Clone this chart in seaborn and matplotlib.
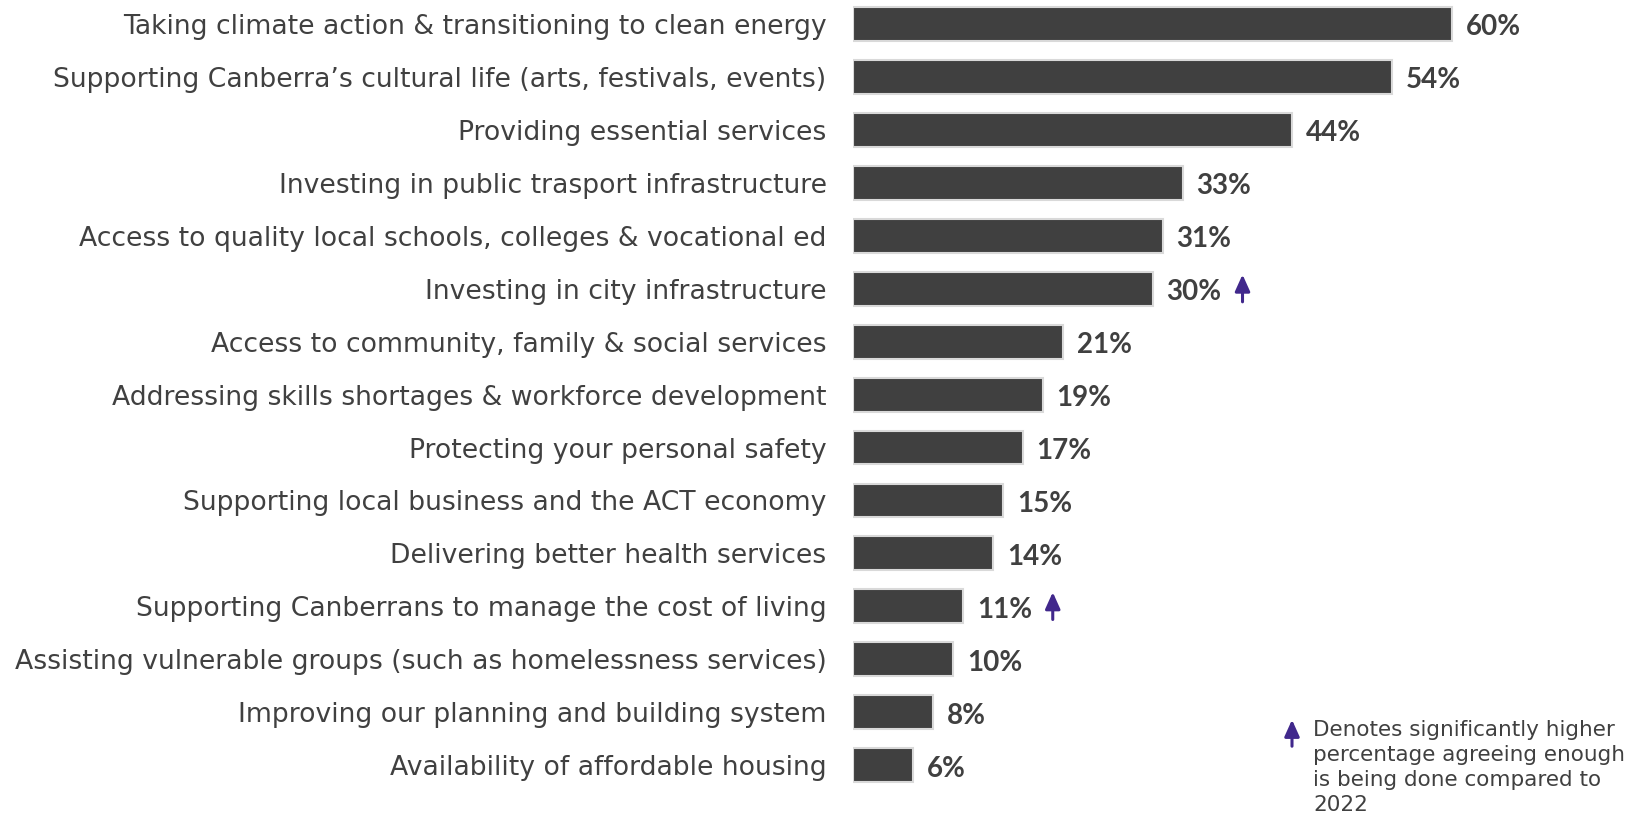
import matplotlib
matplotlib.use('Agg')
import matplotlib.pyplot as plt
import seaborn as sns

categories = [
    'Taking climate action & transitioning to clean energy',
    'Supporting Canberra\u2019s cultural life (arts, festivals, events)',
    'Providing essential services',
    'Investing in public trasport infrastructure',
    'Access to quality local schools, colleges & vocational ed',
    'Investing in city infrastructure',
    'Access to community, family & social services',
    'Addressing skills shortages & workforce development',
    'Protecting your personal safety',
    'Supporting local business and the ACT economy',
    'Delivering better health services',
    'Supporting Canberrans to manage the cost of living',
    'Assisting vulnerable groups (such as homelessness services)',
    'Improving our planning and building system',
    'Availability of affordable housing',
]
values = [60, 54, 44, 33, 31, 30, 21, 19, 17, 15, 14, 11, 10, 8, 6]
significant = [False, False, False, False, False, True, False, False, False, False, False, True, False, False, False]

bar_color = '#404040'
text_color = '#404040'
arrow_color = '#41288c'

sns.set_style('white')
plt.rcParams['font.family'] = ['DejaVu Sans']

fig = plt.figure(figsize=(16.52, 8.17), dpi=100)
ax = fig.add_axes([853 / 1652, 0.031, 1 - 853 / 1652, 0.972])

sns.barplot(x=values, y=categories, orient='h', color=bar_color, saturation=1,
            edgecolor='#d9d9d9', linewidth=1.5, width=0.64, ax=ax)

ax.set_xlim(0, 80)
ax.set_ylim(14.5, -0.5)
ax.set_xlabel('')
ax.set_ylabel('')
ax.set_xticks([])
sns.despine(ax=ax, left=True, bottom=True)
ax.tick_params(axis='y', length=0, pad=19, labelsize=19.2, labelcolor=text_color)

for i, (v, sig) in enumerate(zip(values, significant)):
    ax.annotate(f'{v}%', xy=(v, i), xytext=(10, -2.5), textcoords='offset points',
                va='center', ha='left', fontsize=20, fontweight='bold',
                color=text_color, family='Lato')
    if sig:
        ax.annotate('', xy=(v + 9.0, i - 0.32), xytext=(v + 9.0, i + 0.3),
                    arrowprops=dict(arrowstyle='-|>,head_width=0.45,head_length=1.0',
                                    color=arrow_color, lw=2.2))

# legend for the arrow
fig.patches.append(matplotlib.patches.FancyArrowPatch(
    (1292 / 1652, 1 - 749 / 817), (1292 / 1652, 1 - 717 / 817),
    transform=fig.transFigure, arrowstyle='-|>,head_width=0.45,head_length=1.0',
    color=arrow_color, lw=2.2, mutation_scale=10))
fig.text(1313 / 1652, 1 - 720 / 817,
         'Denotes significantly higher\npercentage agreeing enough\nis being done compared to\n2022',
         ha='left', va='top', fontsize=15.5, color=text_color, linespacing=1.32)

plt.savefig('out.png', dpi=100)
